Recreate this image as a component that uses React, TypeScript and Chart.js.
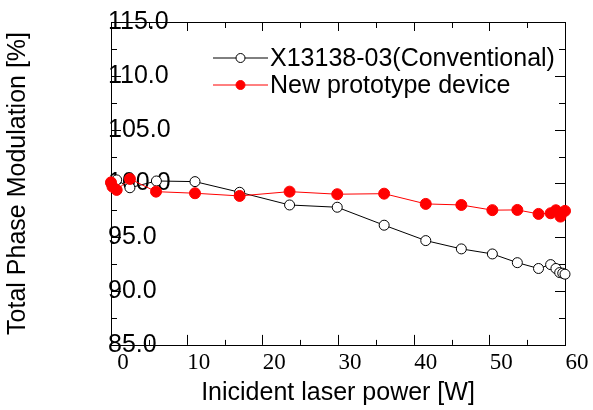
import React, { useEffect, useRef } from 'react';
import { Chart, registerables } from 'chart.js';

Chart.register(...registerables);

// ---- data ----
const seriesNames = ['X13138-03(Conventional)', 'New prototype device'];
const xTickValues = [0, 10, 20, 30, 40, 50, 60];
const yTickValues = [85, 90, 95, 100, 105, 110, 115];

const convPower = [0, 0.75, 2.5, 6.0, 11.1, 17.0, 23.6, 29.9, 36.1, 41.6, 46.3, 50.4, 53.7, 56.5, 58.1, 58.8, 59.3, 59.7, 60.0];
const convModulation = [100.0, 100.33, 99.6, 100.23, 100.17, 99.18, 98.0, 97.79, 96.12, 94.69, 93.92, 93.45, 92.64, 92.1, 92.46, 92.1, 91.72, 91.66, 91.57];

const newPower = [0, 0.2, 0.75, 2.5, 5.95, 11.1, 17.0, 23.6, 29.9, 36.1, 41.6, 46.3, 50.4, 53.7, 56.5, 58.1, 58.8, 59.4, 60.0];
const newModulation = [100.1, 99.7, 99.4, 100.42, 99.24, 99.09, 98.84, 99.24, 99.0, 99.05, 98.1, 98.0, 97.52, 97.54, 97.17, 97.23, 97.51, 96.92, 97.45];

const SANS = '"Liberation Sans", Arial, sans-serif';
const SERIF = '"Liberation Serif", "Times New Roman", serif';

const framePlugin = {
  id: 'frame',
  beforeDatasetsDraw(chart: any) {
    const { ctx, chartArea: a, scales } = chart;
    const xs = scales.x, ys = scales.y;
    ctx.save();
    ctx.strokeStyle = '#000';
    ctx.lineWidth = 1;
    ctx.strokeRect(Math.round(a.left) + 0.5, Math.round(a.top) + 0.5, Math.round(a.right - a.left), Math.round(a.bottom - a.top));
    ctx.beginPath();
    for (let v = xs.min; v <= xs.max + 1e-9; v += 5) {
      const px = Math.round(xs.getPixelForValue(v)) + 0.5;
      const len = v % 10 === 0 ? 10 : 5;
      ctx.moveTo(px, a.bottom); ctx.lineTo(px, a.bottom - len);
      ctx.moveTo(px, a.top); ctx.lineTo(px, a.top + (v % 10 === 0 ? 9 : 6));
    }
    for (let v = ys.min; v <= ys.max + 1e-9; v += 2.5) {
      const py = Math.round(ys.getPixelForValue(v)) + 0.5;
      const len = v % 5 === 0 ? 10 : 6;
      ctx.moveTo(a.left, py); ctx.lineTo(a.left + len, py);
      ctx.moveTo(a.right, py); ctx.lineTo(a.right - len, py);
    }
    ctx.stroke();
    ctx.restore();
  },
};

const legendPlugin = {
  id: 'insideLegend',
  afterDraw(chart: any) {
    const { ctx, chartArea: a } = chart;
    const x0 = a.left + 102;
    const x1 = a.left + 157;
    const rows = [a.top + 36, a.top + 63];
    ctx.save();
    chart.data.datasets.forEach((d: any, i: number) => {
      const y = rows[i];
      ctx.strokeStyle = d.borderColor;
      ctx.lineWidth = 1;
      ctx.beginPath();
      ctx.moveTo(x0, y);
      ctx.lineTo(x1, y);
      ctx.stroke();
      ctx.beginPath();
      ctx.arc((x0 + x1) / 2, y, 4.5, 0, Math.PI * 2);
      ctx.fillStyle = d.pointBackgroundColor;
      ctx.fill();
      ctx.strokeStyle = d.pointBorderColor;
      ctx.stroke();
      ctx.fillStyle = '#000';
      ctx.font = `25px ${SANS}`;
      ctx.textAlign = 'left';
      ctx.textBaseline = 'middle';
      ctx.fillText(d.label, x1 + 2, y + 1);
    });
    ctx.restore();
  },
};

export default function App() {
  const ref = useRef<HTMLCanvasElement | null>(null);

  useEffect(() => {
    if (!ref.current) return;
    Chart.defaults.color = '#000';
    const chart = new Chart(ref.current, {
      type: 'line',
      data: {
        datasets: [
          {
            label: seriesNames[0],
            data: convPower.map((x, i) => ({ x, y: convModulation[i] })),
            borderColor: '#000',
            borderWidth: 1,
            pointRadius: 5,
            pointBorderWidth: 1,
            pointBackgroundColor: '#fff',
            pointBorderColor: '#000',
            tension: 0,
            clip: false,
            order: 2,
          },
          {
            label: seriesNames[1],
            data: newPower.map((x, i) => ({ x, y: newModulation[i] })),
            borderColor: '#ff0000',
            borderWidth: 1,
            pointRadius: 5.5,
            pointBorderWidth: 1,
            pointBackgroundColor: '#ff0000',
            pointBorderColor: '#ff0000',
            tension: 0,
            clip: false,
            order: 1,
          },
        ],
      },
      options: {
        animation: false,
        responsive: false,
        layout: { padding: { left: 0, right: 28, top: 22, bottom: 0.5 } },
        plugins: { legend: { display: false }, tooltip: { enabled: false } },
        scales: {
          x: {
            type: 'linear',
            min: xTickValues[0],
            max: xTickValues[xTickValues.length - 1],
            afterBuildTicks: (s: any) => { s.ticks = xTickValues.map((v) => ({ value: v })); },
            grid: { display: false, drawTicks: false },
            border: { display: false },
            ticks: {
              font: { family: SERIF, size: 23 },
              color: '#000',
              padding: 4,
              labelOffset: 12,
              maxRotation: 0,
              autoSkip: false,
            },
            title: {
              display: true,
              text: 'Inicident laser power [W]',
              font: { family: SANS, size: 25 },
              color: '#000',
              padding: { top: -2, bottom: 1 },
            },
          },
          y: {
            type: 'linear',
            min: yTickValues[0],
            max: yTickValues[yTickValues.length - 1],
            afterBuildTicks: (s: any) => { s.ticks = yTickValues.map((v) => ({ value: v })); },
            grid: { display: false, drawTicks: false },
            border: { display: false },
            ticks: {
              mirror: true,
              padding: -3,
              font: { family: SANS, size: 25 },
              color: '#000',
              autoSkip: false,
              callback: (v: any) => Number(v).toFixed(1),
            },
            title: {
              display: true,
              text: 'Total Phase Modulation [%]',
              font: { family: SANS, size: 25 },
              color: '#000',
              padding: { top: 3, bottom: 84 },
            },
          },
        },
      },
      plugins: [framePlugin, legendPlugin],
    } as any);
    return () => chart.destroy();
  }, []);

  return (
    <div style={{ position: 'fixed', left: 0, top: 0, width: 593, height: 410, background: '#fff' }}>
      <canvas ref={ref} width={593} height={410} />
    </div>
  );
}
